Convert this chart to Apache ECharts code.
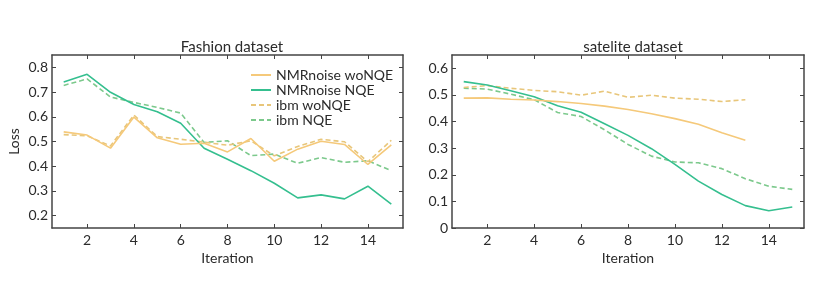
<!DOCTYPE html>
<html>
<head>
<meta charset="utf-8">
<script src="https://cdn.jsdelivr.net/npm/echarts@6/dist/echarts.min.js"></script>
<style>html,body{margin:0;padding:0;background:#fff}#c{width:830px;height:296px}</style>
</head>
<body>
<div id="c"></div>
<script>
const iterations = [1,2,3,4,5,6,7,8,9,10,11,12,13,14,15];
const xTicks = [2,4,6,8,10,12,14];
const fashionYTicks = [0.2,0.3,0.4,0.5,0.6,0.7,0.8];
const sateliteYTicks = [0,0.1,0.2,0.3,0.4,0.5,0.6];

const fashionNmrWo  = [0.539,0.526,0.473,0.599,0.515,0.489,0.493,0.458,0.512,0.420,0.469,0.501,0.488,0.407,0.486];
const fashionNmrNqe = [0.741,0.772,0.699,0.650,0.620,0.574,0.473,0.428,0.382,0.331,0.272,0.284,0.268,0.319,0.247];
const fashionIbmWo  = [0.528,0.523,0.482,0.607,0.520,0.509,0.497,0.485,0.503,0.442,0.480,0.509,0.499,0.418,0.505];
const fashionIbmNqe = [0.727,0.753,0.680,0.658,0.638,0.615,0.496,0.503,0.443,0.449,0.412,0.435,0.416,0.422,0.382];

const satNmrWo  = [0.488,0.489,0.484,0.481,0.475,0.468,0.458,0.445,0.429,0.411,0.390,0.358,0.330];
const satNmrNqe = [0.550,0.537,0.516,0.493,0.459,0.435,0.392,0.348,0.298,0.239,0.176,0.126,0.084,0.065,0.079];
const satIbmWo  = [0.528,0.535,0.525,0.517,0.512,0.499,0.514,0.491,0.499,0.488,0.484,0.475,0.482];
const satIbmNqe = [0.525,0.522,0.503,0.482,0.434,0.419,0.369,0.314,0.270,0.248,0.245,0.223,0.185,0.157,0.145];

const names = ['NMRnoise woNQE','NMRnoise NQE','ibm woNQE','ibm NQE'];
const colors = ['#f5c97a','#35bf8f','#e8c67a','#7cc98c'];
const dashed = [false,false,true,true];

const FONT = 'Lato, "Noto Sans", sans-serif';
const TXT = '#2b2b2b';
const AX = '#444';

function pairs(vals){ return vals.map((v,i)=>[iterations[i], v]); }

function xAx(gi, pos, show){
  return {type:'value', gridIndex:gi, position:pos, min:0.5, max:15.5,
    name: show ? 'Iteration' : '', nameLocation:'middle', nameGap:16,
    nameTextStyle:{fontFamily:FONT, fontSize:14, color:TXT},
    axisLine:{show:true, onZero:false, lineStyle:{color:AX, width:1.5}},
    axisTick:{show:true, inside:true, length:4, customValues:xTicks, lineStyle:{color:AX}},
    axisLabel:{show:show, customValues:xTicks, margin:5, fontFamily:FONT, fontSize:14, color:TXT},
    splitLine:{show:false}};
}
function yAx(gi, pos, show, min, max, ticks, name){
  return {type:'value', gridIndex:gi, position:pos, min:min, max:max,
    name: name, nameLocation:'middle', nameGap:31,
    nameTextStyle:{fontFamily:FONT, fontSize:14, color:TXT},
    axisLine:{show:true, onZero:false, lineStyle:{color:AX, width:1.5}},
    axisTick:{show:true, inside:true, length:4, customValues:ticks, lineStyle:{color:AX}},
    axisLabel:{show:show, customValues:ticks, margin:4, fontFamily:FONT, fontSize:14, color:TXT,
      formatter:(v)=> String(Math.round(v*10)/10)},
    splitLine:{show:false}};
}

const fashion = [fashionNmrWo, fashionNmrNqe, fashionIbmWo, fashionIbmNqe];
const sat = [satNmrWo, satNmrNqe, satIbmWo, satIbmNqe];

const series = [];
fashion.forEach((d,i)=>series.push({name:names[i], type:'line', xAxisIndex:0, yAxisIndex:0,
  data:pairs(d), symbol:'none', z: 10-i,
  lineStyle:{color:colors[i], width:1.6, type: dashed[i] ? [5,3] : 'solid'}, itemStyle:{color:colors[i]}}));
sat.forEach((d,i)=>series.push({name:names[i], type:'line', xAxisIndex:2, yAxisIndex:2,
  data:pairs(d), symbol:'none', z: 10-i,
  lineStyle:{color:colors[i], width:1.6, type: dashed[i] ? [5,3] : 'solid'}, itemStyle:{color:colors[i]}}));

const chart = echarts.init(document.getElementById('c'), null, {renderer:'canvas'});
chart.setOption({
  animation:false,
  backgroundColor:'#fff',
  title:[
    {text:'Fashion dataset', left:227, top:35, textAlign:'center', textStyle:{fontFamily:FONT, fontSize:15, fontWeight:'normal', color:TXT}},
    {text:'satelite dataset', left:628, top:35, textAlign:'center', textStyle:{fontFamily:FONT, fontSize:15, fontWeight:'normal', color:TXT}}
  ],
  legend:{data:names, orient:'vertical', left:245, top:63, itemWidth:20, itemHeight:10, itemGap:1,
    itemStyle:{opacity:0},
    textStyle:{fontFamily:FONT, fontSize:14, lineHeight:14, color:TXT}},
  grid:[
    {left:52, top:55, width:351, height:173},
    {left:452, top:55, width:352, height:173}
  ],
  xAxis:[xAx(0,'bottom',true), xAx(0,'top',false), xAx(1,'bottom',true), xAx(1,'top',false)],
  yAxis:[
    yAx(0,'left',true,0.15,0.85,fashionYTicks,'Loss'), yAx(0,'right',false,0.15,0.85,fashionYTicks,''),
    yAx(1,'left',true,0,0.65,sateliteYTicks,''), yAx(1,'right',false,0,0.65,sateliteYTicks,'')
  ],
  series:series
});
</script>
</body>
</html>
